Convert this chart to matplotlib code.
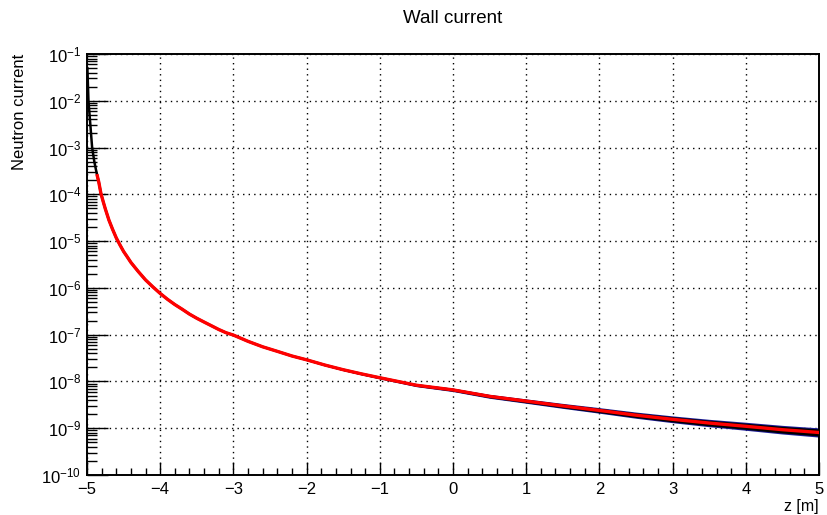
import numpy as np
import matplotlib
matplotlib.use("Agg")
import matplotlib.pyplot as plt
from matplotlib.ticker import LogFormatterMathtext, MultipleLocator, NullFormatter

plt.rcParams['font.family'] = ['Liberation Sans', 'DejaVu Sans']
plt.rcParams['mathtext.fontset'] = 'custom'
plt.rcParams['mathtext.rm'] = 'Liberation Sans'
plt.rcParams['mathtext.it'] = 'Liberation Sans:italic'

# position along the guide [m]
z = [-4.995, -4.99, -4.98, -4.96, -4.93, -4.90, -4.88,
     -4.86, -4.84, -4.81, -4.78, -4.75, -4.70, -4.65, -4.60, -4.55, -4.50,
     -4.45, -4.40, -4.30, -4.20, -4.10, -4.00, -3.90, -3.80, -3.70, -3.60,
     -3.50, -3.40, -3.30, -3.20, -3.10, -3.00, -2.80, -2.60, -2.40, -2.20,
     -2.00, -1.75, -1.50, -1.25, -1.00, -0.50, 0.0, 0.5, 1.0, 1.5,
     2.0, 2.5, 3.0, 3.5, 4.0, 4.5, 5.0]
# wall current per bin
current = [5.0e-2, 3.0e-2, 1.0e-2, 4.0e-3, 1.0e-3, 5.0e-4, 3.5e-4,
           2.5e-4, 1.86e-4, 1.05e-4, 7.1e-5, 4.9e-5, 2.8e-5, 1.78e-5, 1.17e-5, 8.3e-6, 6.0e-6,
           4.6e-6, 3.5e-6, 2.24e-6, 1.48e-6, 1.05e-6, 7.6e-7, 5.7e-7, 4.4e-7, 3.5e-7, 2.75e-7,
           2.24e-7, 1.86e-7, 1.55e-7, 1.29e-7, 1.10e-7, 9.8e-8, 7.2e-8, 5.5e-8, 4.4e-8, 3.5e-8,
           2.9e-8, 2.24e-8, 1.78e-8, 1.45e-8, 1.2e-8, 8.3e-9, 6.6e-9, 4.8e-9, 3.8e-9, 3.0e-9,
           2.4e-9, 1.9e-9, 1.55e-9, 1.29e-9, 1.1e-9, 9.3e-10, 8.1e-10]
# statistical scatter of the bins (decades)
spread = [0.0] * 32 + [0.006, 0.007, 0.008, 0.009, 0.01,
                       0.012, 0.014, 0.016, 0.018, 0.02, 0.024, 0.028, 0.032, 0.036, 0.041,
                       0.046, 0.051, 0.056, 0.061, 0.066, 0.071, 0.076]

# y axis decades, 1e-10 .. 1e-1
decades = list(range(-10, 0))

# fit starts a little away from the wall
fit_start = 7
z_fit = z[fit_start:]
current_fit = current[fit_start:]

zz = np.array(z)
cc = np.array(current)
sp = np.array(spread)

fig = plt.figure(figsize=(8.27, 5.15), dpi=100)
ax = fig.add_axes([0.1052, 0.0777, 0.8851, 0.8174])

# error bars (blue) and histogram band (black)
ax.fill_between(zz, cc * 10 ** (-sp * 1.3), cc * 10 ** (sp * 1.3), color='#1c1c96', lw=0, zorder=2)
ax.fill_between(zz, cc * 10 ** (-sp), cc * 10 ** sp, color='black', lw=0, zorder=3)
ax.plot(zz, cc, color='black', lw=1.8, zorder=3)
ax.plot(z_fit, current_fit, color='red', lw=2.4, zorder=4)

ax.set_yscale('log')
ax.xaxis.set_major_locator(MultipleLocator(1))
ax.xaxis.set_minor_locator(MultipleLocator(0.2))
major_y = [10.0 ** d for d in decades]
minor_y = [m * 10.0 ** d for d in decades[:-1] for m in range(2, 10)]
ax.set_yticks(major_y)
ax.set_yticks(minor_y, minor=True)
ax.yaxis.set_major_formatter(LogFormatterMathtext())
ax.yaxis.set_minor_formatter(NullFormatter())

ax.set_xlim(-5, 5)
ax.set_ylim(1e-10, 1e-1)

ax.tick_params(axis='both', which='both', direction='in', top=False, right=False,
               labelsize=12, width=1.0, color='black')
ax.tick_params(axis='x', which='major', length=9.4, pad=5)
ax.tick_params(axis='x', which='minor', length=5, labelbottom=False)
ax.tick_params(axis='y', which='major', length=15, pad=4)
ax.tick_params(axis='y', which='minor', length=7.2, labelleft=False)

for s in ax.spines.values():
    s.set_linewidth(1.4)

ax.grid(True, which='major', color='black', linestyle=(0, (1, 3)), linewidth=1.0)

ax.set_title("Wall current", fontsize=13.5, pad=22)
ax.set_ylabel("Neutron current", fontsize=12)
ax.yaxis.set_label_coords(-0.082, 1.0)
ax.yaxis.label.set_ha('right')
ax.set_xlabel("z [m]", fontsize=11.5)
ax.xaxis.set_label_coords(1.0, -0.058)
ax.xaxis.label.set_ha('right')
ax.xaxis.label.set_va('top')

plt.savefig("out.png", dpi=100)
